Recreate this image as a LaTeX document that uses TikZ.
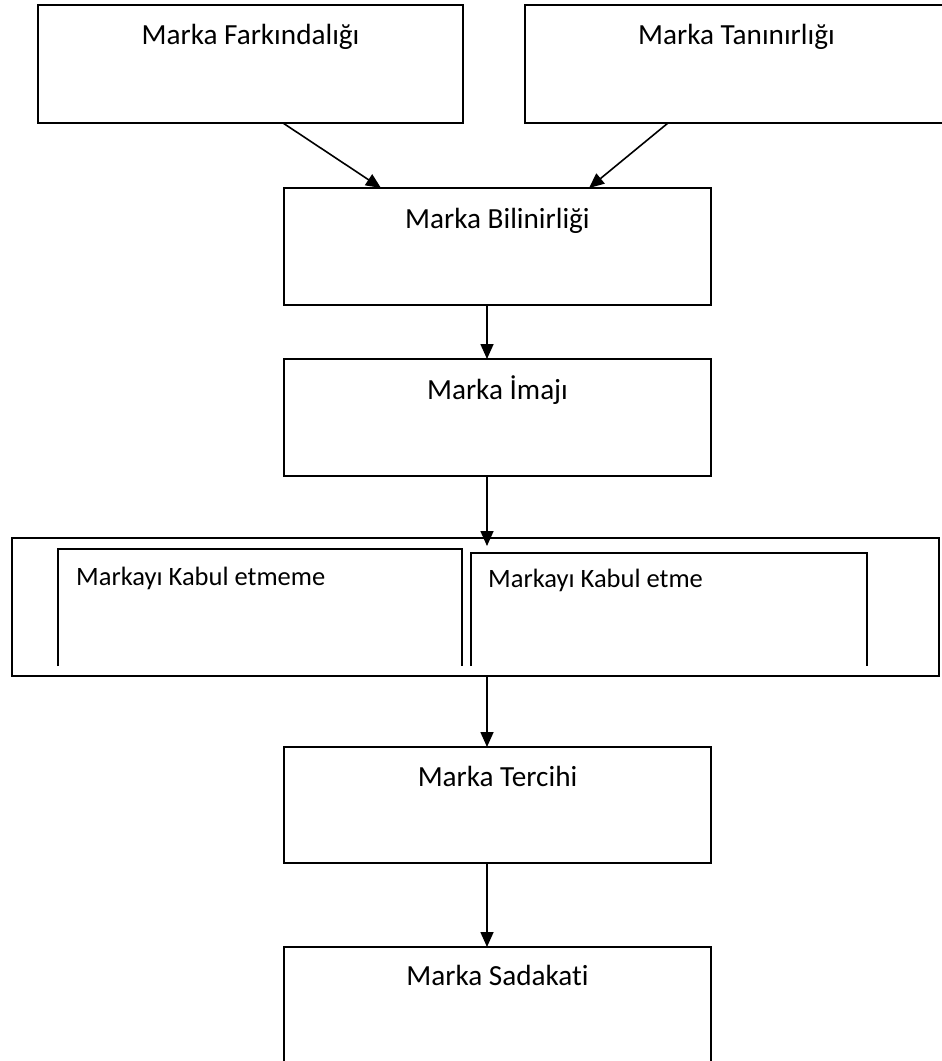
\documentclass[tikz,border=0pt]{standalone}
\usepackage{fontspec}
\setmainfont{Carlito}[Ligatures=NoCommon]
\usetikzlibrary{arrows.meta}
\begin{document}
\begin{tikzpicture}[x=1pt,y=-1pt,
  box/.style={draw, line width=1.8pt, minimum width=427pt, minimum height=117pt,
              inner sep=0pt, outer sep=0pt},
  lbl/.style={anchor=base, font=\fontsize{29.2}{34}\selectfont, inner sep=0pt},
  sublbl/.style={anchor=base west, font=\fontsize{26.5}{32}\selectfont, inner sep=0pt},
  frame/.style={line width=1.8pt},
  flow/.style={line width=1.6pt, -{Triangle[length=15pt,width=13pt]}}]
\useasboundingbox (0,0) rectangle (942,1061);

% top row
\node[box, minimum width=425pt, minimum height=118pt] (fark) at (250.5,64) {};
\node[box, minimum width=423pt, minimum height=118pt] (tani) at (736.5,64) {};
\node[lbl] (farkT) at (250.5,44) {Marka Farkındalığı};
\node[lbl] (taniT) at (736.5,44) {Marka Tanınırlığı};

% central column
\node[box] (bili) at (497.5,246.5) {};
\node[lbl] (biliT) at (497.5,228) {Marka Bilinirliği};

\node[box] (imaj) at (497.5,417.5) {};
\node[lbl] (imajT) at (497.5,399) {Marka İmajı};

% acceptance frame with its two open panels
\node[box, minimum width=927pt, minimum height=138pt] (kabul) at (475.5,607) {};
\draw[frame] (58,666) -- (58,549) -- (462,549) -- (462,666);
\draw[frame] (471,666) -- (471,553) -- (867,553) -- (867,666);
\node[sublbl] (redT) at (76,585) {Markayı Kabul etmeme};
\node[sublbl] (kabT) at (488,587) {Markayı Kabul etme};

\node[box, minimum height=116pt] (terc) at (497.5,805) {};
\node[lbl] (tercT) at (497.5,786) {Marka Tercihi};

\node[box, minimum height=128pt] (sada) at (497.5,1011) {};
\node[lbl] (sadaT) at (497.5,985) {Marka Sadakati};

% connectors
\draw[flow] ([xshift=32.5pt]fark.south) -- ([xshift=-116.5pt]bili.north);
\draw[flow] ([xshift=-68.5pt]tani.south) -- ([xshift=91.5pt]bili.north);
\draw[flow] ([xshift=-10.5pt]bili.south) -- ([xshift=-10.5pt]imaj.north);
\draw[flow] ([xshift=-10.5pt]imaj.south) -- ([xshift=11.5pt,yshift=-8pt]kabul.north);
\draw[flow] ([xshift=11.5pt]kabul.south) -- ([xshift=-10.5pt]terc.north);
\draw[flow] ([xshift=-10.5pt]terc.south) -- ([xshift=-10.5pt]sada.north);
\end{tikzpicture}
\end{document}
